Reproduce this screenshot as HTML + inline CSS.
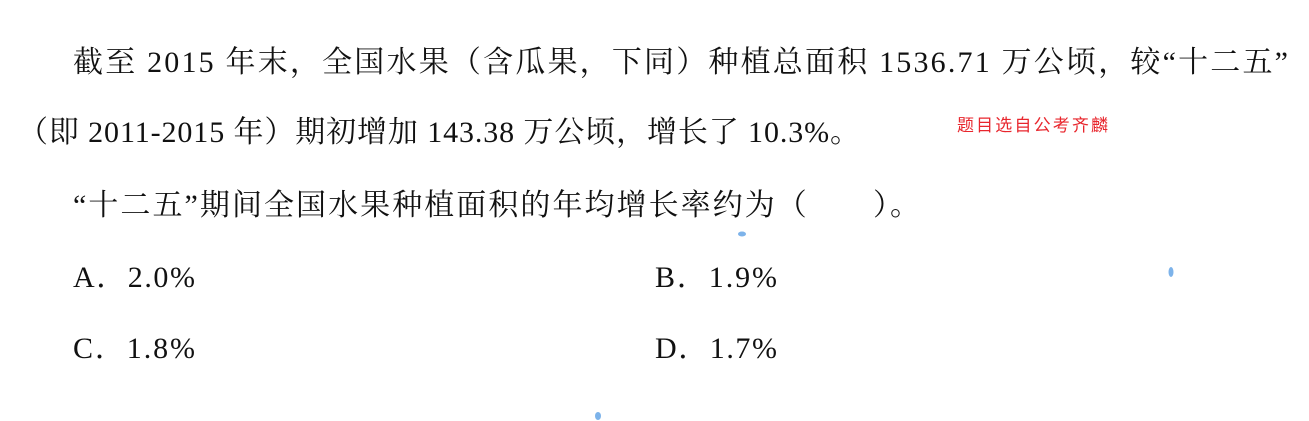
<!DOCTYPE html>
<html><head><meta charset="utf-8"><style>
html,body{margin:0;padding:0;background:#fff;width:1309px;height:421px;overflow:hidden}
svg text{font-family:"Liberation Serif","Noto Serif CJK SC",serif;fill:#111;font-size:30px}
</style></head><body>
<svg width="1309" height="421">
<text x="73" y="72" textLength="1215" lengthAdjust="spacing">截至 2015 年末，全国水果（含瓜果，下同）种植总面积 1536.71 万公顷，较“十二五”</text>
<text x="18" y="142" textLength="842" lengthAdjust="spacing">（即 2011-2015 年）期初增加 143.38 万公顷，增长了 10.3%。</text>
<text x="957" y="131" textLength="151" lengthAdjust="spacing" style="fill:#e8262d;font-family:'Liberation Sans','Noto Sans CJK SC',sans-serif;font-size:17px">题目选自公考齐麟</text>
<text x="73" y="215" textLength="847" lengthAdjust="spacing">“十二五”期间全国水果种植面积的年均增长率约为（　　）。</text>
<text x="73" y="287" textLength="122" lengthAdjust="spacing">A．2.0%</text>
<text x="655" y="287" textLength="122" lengthAdjust="spacing">B．1.9%</text>
<text x="73" y="358" textLength="122" lengthAdjust="spacing">C．1.8%</text>
<text x="655" y="358" textLength="122" lengthAdjust="spacing">D．1.7%</text>
<ellipse cx="742" cy="234" rx="4" ry="2.5" fill="#7db3ea"/>
<ellipse cx="1171" cy="272" rx="2.5" ry="5" fill="#7db3ea"/>
<ellipse cx="598" cy="416" rx="3" ry="4" fill="#7db3ea"/>
</svg>
</body></html>
